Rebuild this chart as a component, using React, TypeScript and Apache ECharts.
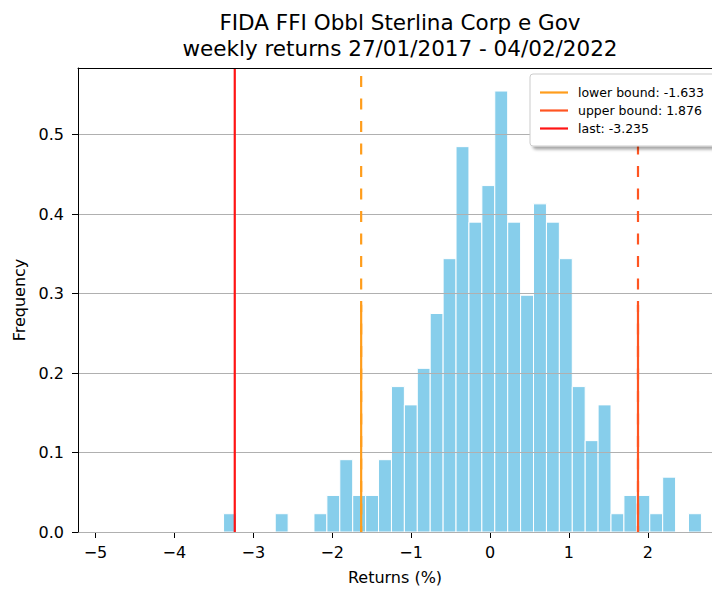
import React, { useEffect, useRef } from "react";
import * as echarts from "echarts";

// Histogram (density) of weekly returns
const binStart = -3.377;
const binWidth = 0.1637;
const densities = [
  0.023, 0, 0, 0, 0.023, 0, 0, 0.023, 0.046, 0.091, 0.046, 0.046, 0.091,
  0.183, 0.16, 0.206, 0.275, 0.344, 0.485, 0.39, 0.436, 0.555, 0.39, 0.298,
  0.413, 0.39, 0.344, 0.183, 0.115, 0.16, 0.023, 0.046, 0.046, 0.023, 0.069,
  0, 0.023,
];
const xTicks = [-5, -4, -3, -2, -1, 0, 1, 2];
const yTicks = [0, 0.1, 0.2, 0.3, 0.4, 0.5];
const lowerBound = -1.633;
const upperBound = 1.876;
const lastValue = -3.235;
const titleLines = [
  "FIDA FFI Obbl Sterlina Corp e Gov",
  "weekly returns 27/01/2017 - 04/02/2022",
];
const legendNames = [
  "lower bound: " + lowerBound.toFixed(3),
  "upper bound: " + upperBound.toFixed(3),
  "last: " + lastValue.toFixed(3),
];

const X_MIN = -5.222;
const X_MAX = 2.814;
const Y_MAX = 0.584;
const SOLID_TOP = 0.286;
const FONT = "DejaVu Sans";
const C_LOWER = "#ff9d1c";
const C_UPPER = "#ff5522";
const C_LAST = "#ff1414";

export default function App() {
  const ref = useRef<HTMLDivElement>(null);
  useEffect(() => {
    if (!ref.current) return;
    const chart = echarts.init(ref.current, undefined, { renderer: "svg" });
    const bins = densities.map((d, i) => [
      binStart + i * binWidth,
      binStart + (i + 1) * binWidth,
      d,
    ]);
    const minus = (v: number) => String(v).replace("-", "\u2212");
    const vline = (
      name: string,
      x: number,
      top: number,
      color: string,
      dashed: boolean
    ) => ({
      name,
      type: "line",
      z: 4,
      symbol: "none",
      showSymbol: false,
      silent: true,
      data: [
        [x, 0],
        [x, top],
      ],
      lineStyle: {
        color,
        width: 2.2,
        type: dashed ? [11, 11.5] : "solid",
        dashOffset: dashed ? 5.3 : 0,
        cap: "butt",
      },
      itemStyle: { color },
    });

    chart.setOption({
      animation: false,
      backgroundColor: "#ffffff",
      textStyle: { fontFamily: FONT },
      grid: { left: 78, top: 68, right: 0, bottom: 56, show: false },
      graphic: [
        {
          type: "text",
          x: 400,
          y: 22.6,
          style: { text: titleLines[0], font: `21.5px '${FONT}'`, fill: "#000", align: "center", verticalAlign: "middle" },
        },
        {
          type: "text",
          x: 400,
          y: 48.6,
          style: { text: titleLines[1], font: `21.5px '${FONT}'`, fill: "#000", align: "center", verticalAlign: "middle" },
        },
      ],
      legend: {
        data: legendNames,
        orient: "vertical",
        left: 530,
        top: 74,
        z: 10,
        icon: "rect",
        itemWidth: 28,
        itemHeight: 2.2,
        itemGap: 5,
        padding: [12, 14, 11, 10],
        backgroundColor: "#ffffff",
        borderColor: "#cccccc",
        borderWidth: 1,
        borderRadius: 3,
        shadowColor: "rgba(0,0,0,0.35)",
        shadowBlur: 3,
        shadowOffsetX: 3,
        shadowOffsetY: 3,
        selectedMode: false,
        textStyle: { fontSize: 12.5, color: "#000", fontFamily: FONT, padding: [0, 0, 0, 5] },
      },
      xAxis: [
        {
          type: "value",
          min: X_MIN,
          max: X_MAX,
          position: "bottom",
          name: "Returns (%)",
          nameLocation: "middle",
          nameGap: 37,
          nameTextStyle: { fontSize: 16, color: "#000", fontFamily: FONT },
          axisLine: { show: true, onZero: false, lineStyle: { color: "#000", width: 1 } },
          axisTick: { show: true, length: 6, customValues: xTicks, lineStyle: { color: "#000", width: 1 } },
          axisLabel: {
            show: true,
            customValues: xTicks,
            fontSize: 16,
            color: "#000",
            fontFamily: FONT,
            margin: 12,
            formatter: (v: number) => minus(v),
          },
          splitLine: { show: false },
        },
        {
          type: "value",
          min: X_MIN,
          max: X_MAX,
          position: "top",
          z: 6,
          axisLine: { show: true, onZero: false, lineStyle: { color: "#000", width: 1 } },
          axisTick: { show: false },
          axisLabel: { show: false },
          splitLine: { show: false },
        },
      ],
      yAxis: {
        type: "value",
        min: 0,
        max: Y_MAX,
        interval: 0.1,
        z: 3,
        name: "Frequency",
        nameLocation: "middle",
        nameRotate: 90,
        nameGap: 51,
        nameTextStyle: { fontSize: 16, color: "#000", fontFamily: FONT },
        axisLine: { show: true, onZero: false, lineStyle: { color: "#000", width: 1 } },
        axisTick: { show: true, length: 6, customValues: yTicks, lineStyle: { color: "#000", width: 1 } },
        axisLabel: {
          show: true,
          customValues: yTicks,
          fontSize: 16,
          color: "#000",
          fontFamily: FONT,
          margin: 14,
          formatter: (v: number) => v.toFixed(1),
        },
        splitLine: { show: true, lineStyle: { color: "#b0b0b0", width: 1.2 } },
      },
      series: [
        {
          name: "hist",
          type: "custom",
          z: 2,
          silent: true,
          data: bins,
          encode: { x: [0, 1], y: 2 },
          renderItem: (params: any, api: any) => {
            const x0 = api.value(0);
            const x1 = api.value(1);
            const h = api.value(2);
            if (!h) return null;
            const p0 = api.coord([x0, h]);
            const p1 = api.coord([x1, 0]);
            return {
              type: "rect",
              shape: { x: p0[0], y: p0[1], width: p1[0] - p0[0], height: p1[1] - p0[1] },
              style: { fill: "#87ceeb", stroke: "#ffffff", lineWidth: 1 },
            };
          },
        },
        vline("lowerDashed", lowerBound, Y_MAX, C_LOWER, true),
        vline(legendNames[0], lowerBound, SOLID_TOP, C_LOWER, false),
        vline("upperDashed", upperBound, Y_MAX, C_UPPER, true),
        vline(legendNames[1], upperBound, SOLID_TOP, C_UPPER, false),
        vline(legendNames[2], lastValue, Y_MAX, C_LAST, false),
      ],
    });
    return () => chart.dispose();
  }, []);
  return (
    <div
      ref={ref}
      style={{ position: "absolute", left: 0, top: 0, width: 712, height: 590 }}
    />
  );
}
